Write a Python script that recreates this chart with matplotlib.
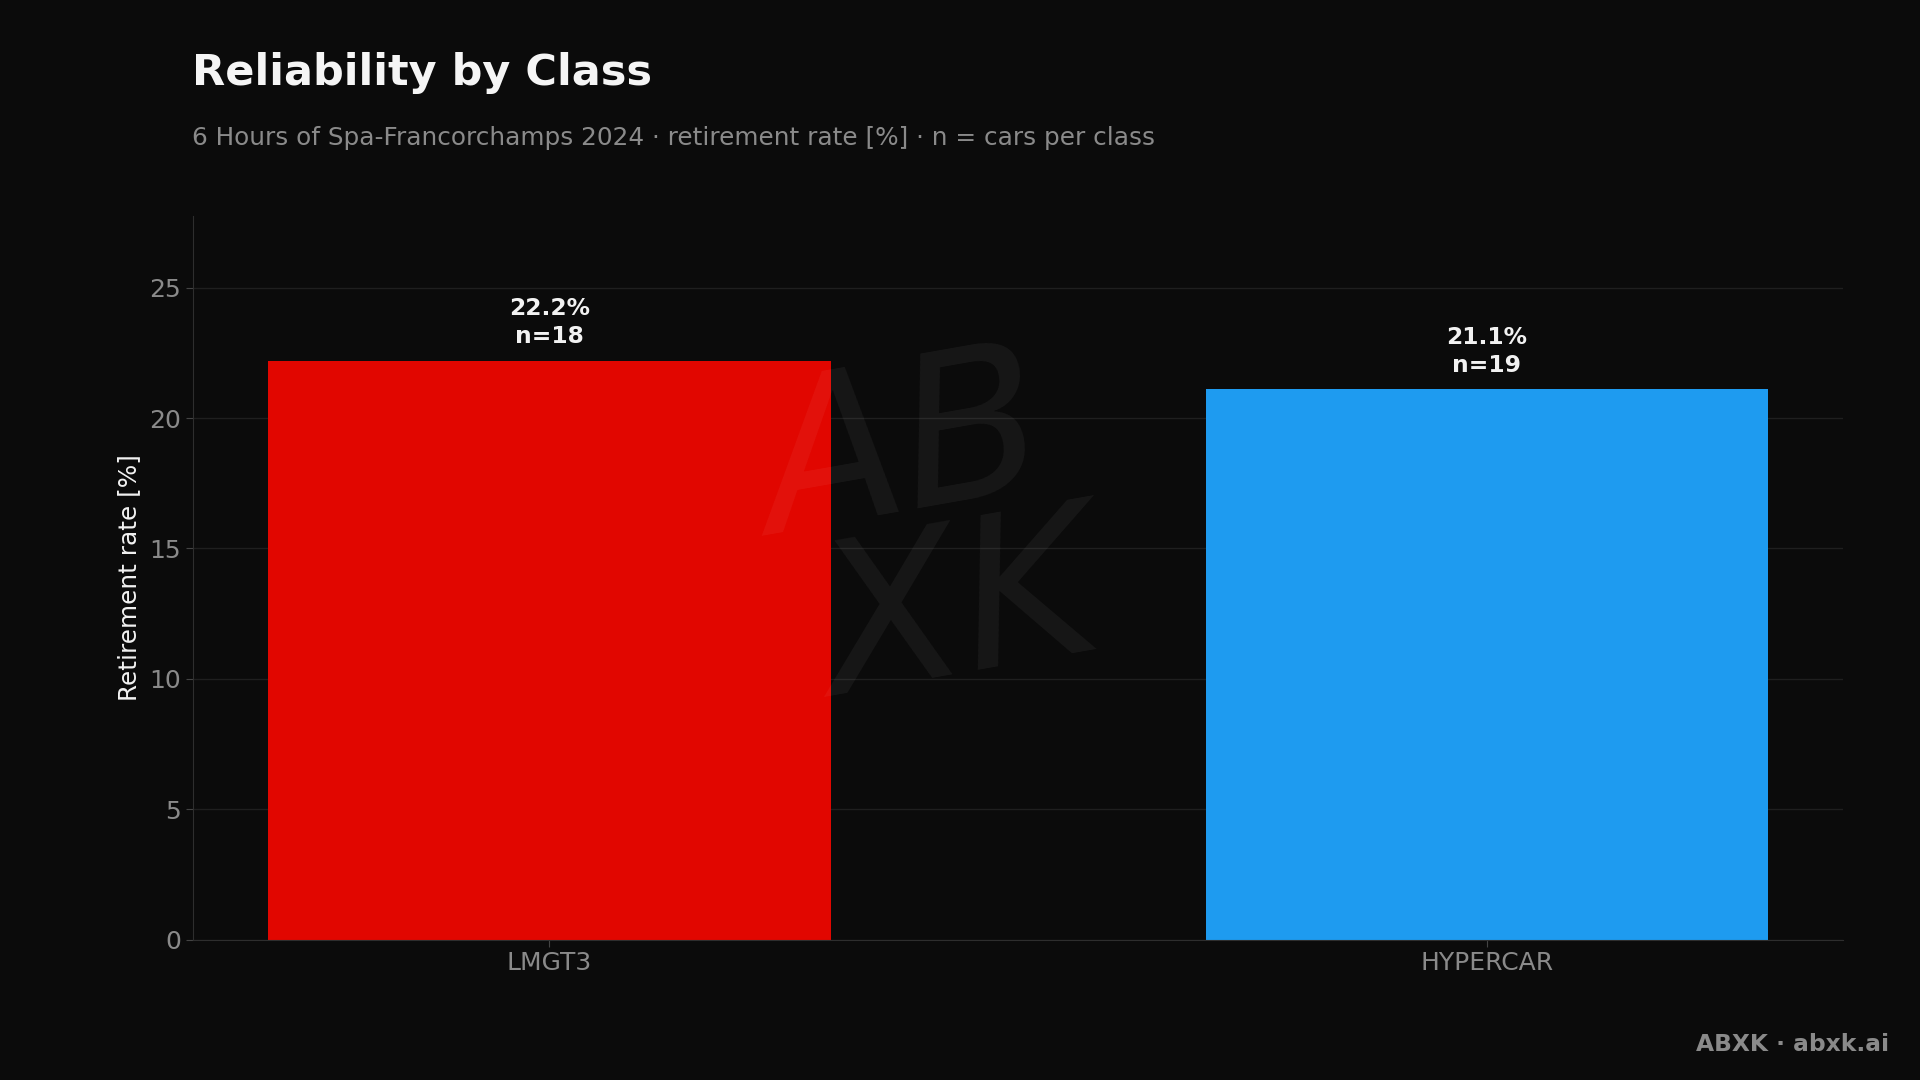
import matplotlib.pyplot as plt

classes = ["LMGT3", "HYPERCAR"]
retire_rate = [22.2, 21.1]
n_cars = [18, 19]
bar_colors = ["#e10600", "#1e9bf0"]

bg = "#0b0b0b"
plt.rcParams["font.family"] = "DejaVu Sans"

fig = plt.figure(figsize=(19.2, 10.8), dpi=100, facecolor=bg)
ax = fig.add_axes([0.1005, 0.13, 0.8595, 0.67])
ax.set_facecolor(bg)

x = range(len(classes))
bars = ax.bar(x, retire_rate, width=0.6, color=bar_colors, zorder=2)

for b, v, n in zip(bars, retire_rate, n_cars):
    ax.annotate(f"{v:.1f}%\nn={n}", (b.get_x() + b.get_width() / 2, v),
                xytext=(0, 9), textcoords="offset points", ha="center", va="bottom",
                fontsize=16.8, fontweight="bold", color="#f2f2f2", linespacing=1.3)

ax.set_xticks(list(x))
ax.set_xticklabels(classes)
ax.set_ylim(0, 27.75)
ax.set_yticks([0, 5, 10, 15, 20, 25])
ax.grid(axis="y", color="#1f1f1f", linewidth=1, zorder=0)
ax.set_axisbelow(True)
ax.tick_params(colors="#8a8a8a", labelsize=18, length=5, color="#444444")
for s in ["top", "right"]:
    ax.spines[s].set_visible(False)
for s in ["left", "bottom"]:
    ax.spines[s].set_color("#2e2e2e")
ax.set_ylabel("Retirement rate [%]", color="#f2f2f2", fontsize=17.8, labelpad=6)

# faint signature-like watermark
fig.text(0.47, 0.58, "AB", fontsize=150, fontstyle="italic", color="#ffffff",
         alpha=0.05, ha="center", va="center", rotation=10, zorder=3)
fig.text(0.50, 0.43, "XK", fontsize=150, fontstyle="italic", color="#ffffff",
         alpha=0.05, ha="center", va="center", rotation=10, zorder=3)

fig.text(0.1, 0.932, "Reliability by Class", fontsize=31, fontweight="bold",
         color="#f5f5f5", ha="left", va="center")
fig.text(0.1, 0.872, "6 Hours of Spa-Francorchamps 2024 \u00b7 retirement rate [%] \u00b7 n = cars per class",
         fontsize=17.85, color="#8a8a8a", ha="left", va="center")
fig.text(0.984, 0.033, "ABXK \u00b7 abxk.ai", fontsize=16.8, fontweight="bold",
         color="#8a8a8a", ha="right", va="center")

fig.savefig("out.png", dpi=100, facecolor=bg)
